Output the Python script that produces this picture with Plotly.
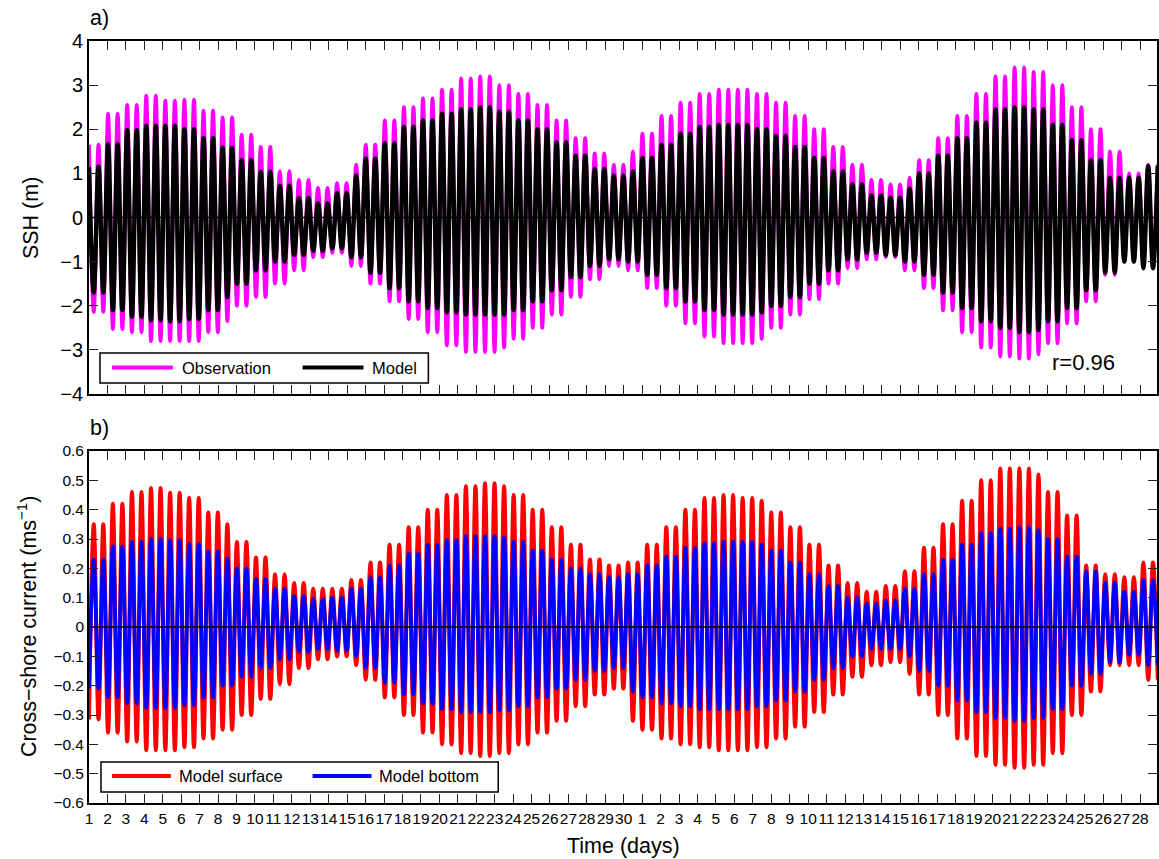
import plotly.graph_objects as go

# Calendar day labels for the two consecutive months on the time axis
day_labels = [str(d) for d in range(1, 31)] + [str(d) for d in range(1, 29)]

# Daily envelopes of sea surface height (m): high-water and low-water levels
ssh_obs_high = [1.65, 2.35, 2.55, 2.76, 2.65, 2.67, 2.42, 2.27, 1.88, 1.60,
                1.05, 0.85, 0.67, 0.78, 1.20, 1.65, 2.20, 2.50, 2.70, 2.90,
                3.15, 3.20, 3.00, 2.80, 2.55, 2.20, 1.80, 1.45, 1.20, 1.50,
                1.90, 2.30, 2.60, 2.80, 2.90, 2.90, 2.80, 2.60, 2.30, 2.00,
                1.60, 1.20, 0.85, 0.75, 0.90, 1.30, 1.80, 2.30, 2.80, 3.20,
                3.40, 3.30, 3.00, 2.50, 2.00, 1.50, 1.00, 1.20]
ssh_obs_low = [-2.14, -2.53, -2.60, -2.80, -2.80, -2.80, -2.60, -2.35, -2.00, -1.80,
               -1.50, -1.20, -0.90, -0.80, -1.10, -1.50, -1.90, -2.30, -2.60, -2.90,
               -3.05, -3.05, -2.95, -2.75, -2.50, -2.20, -1.80, -1.40, -1.10, -1.20,
               -1.60, -2.00, -2.40, -2.70, -2.85, -2.85, -2.75, -2.50, -2.20, -1.85,
               -1.50, -1.15, -0.95, -0.90, -1.20, -1.60, -2.10, -2.60, -2.95, -3.15,
               -3.20, -3.10, -2.85, -2.40, -1.90, -1.30, -1.00, -1.10]
ssh_model_high = [1.15, 1.66, 1.98, 2.08, 2.08, 2.00, 1.80, 1.58, 1.30, 1.04,
                  0.72, 0.44, 0.32, 0.55, 0.95, 1.33, 1.68, 2.05, 2.20, 2.35,
                  2.45, 2.50, 2.40, 2.20, 2.00, 1.70, 1.40, 1.10, 0.95, 1.05,
                  1.35, 1.65, 1.90, 2.05, 2.10, 2.10, 2.00, 1.85, 1.60, 1.35,
                  1.05, 0.75, 0.50, 0.45, 0.65, 1.00, 1.40, 1.80, 2.15, 2.45,
                  2.50, 2.45, 2.10, 1.75, 1.30, 0.90, 0.90, 1.17]
ssh_model_low = [-1.70, -2.10, -2.25, -2.33, -2.35, -2.30, -2.10, -1.80, -1.50, -1.20,
                 -1.00, -0.85, -0.75, -0.70, -0.90, -1.25, -1.60, -1.90, -2.05, -2.15,
                 -2.20, -2.20, -2.20, -2.10, -1.90, -1.65, -1.35, -1.10, -0.95, -1.00,
                 -1.30, -1.60, -1.90, -2.10, -2.20, -2.20, -2.15, -2.00, -1.80, -1.50,
                 -1.20, -0.95, -0.80, -0.85, -1.00, -1.30, -1.70, -2.05, -2.35, -2.50,
                 -2.60, -2.55, -2.35, -2.05, -1.65, -1.25, -1.00, -1.15]

# Daily envelopes of cross-shore current (m/s): onshore and offshore maxima
surface_high = [0.35, 0.42, 0.46, 0.474, 0.458, 0.44, 0.39, 0.35, 0.29, 0.237,
                0.18, 0.15, 0.13, 0.13, 0.16, 0.22, 0.28, 0.34, 0.40, 0.45,
                0.48, 0.49, 0.48, 0.45, 0.40, 0.34, 0.28, 0.23, 0.21, 0.22,
                0.28, 0.34, 0.40, 0.44, 0.45, 0.44, 0.43, 0.39, 0.34, 0.28,
                0.21, 0.15, 0.12, 0.14, 0.19, 0.27, 0.35, 0.43, 0.50, 0.54,
                0.54, 0.52, 0.46, 0.38, 0.21, 0.18, 0.17, 0.22]
surface_low = [-0.315, -0.36, -0.39, -0.42, -0.42, -0.41, -0.38, -0.35, -0.30, -0.245,
               -0.195, -0.14, -0.11, -0.10, -0.13, -0.18, -0.24, -0.30, -0.36, -0.40,
               -0.43, -0.44, -0.43, -0.40, -0.36, -0.32, -0.27, -0.23, -0.21, -0.32,
               -0.35, -0.38, -0.40, -0.41, -0.42, -0.42, -0.41, -0.38, -0.34, -0.29,
               -0.23, -0.17, -0.13, -0.12, -0.16, -0.23, -0.30, -0.38, -0.44, -0.47,
               -0.48, -0.47, -0.43, -0.30, -0.22, -0.13, -0.13, -0.18]
bottom_high = [0.23, 0.275, 0.29, 0.30, 0.295, 0.283, 0.257, 0.233, 0.20, 0.165,
               0.13, 0.105, 0.095, 0.10, 0.13, 0.17, 0.21, 0.25, 0.28, 0.295,
               0.31, 0.31, 0.305, 0.29, 0.26, 0.23, 0.20, 0.18, 0.17, 0.18,
               0.21, 0.24, 0.27, 0.285, 0.29, 0.29, 0.28, 0.26, 0.22, 0.18,
               0.14, 0.10, 0.08, 0.09, 0.13, 0.18, 0.23, 0.28, 0.32, 0.335,
               0.34, 0.33, 0.30, 0.24, 0.19, 0.15, 0.12, 0.16]
bottom_low = [-0.21, -0.24, -0.26, -0.275, -0.276, -0.266, -0.24, -0.20, -0.17, -0.14,
              -0.11, -0.085, -0.075, -0.08, -0.10, -0.14, -0.19, -0.23, -0.26, -0.28,
              -0.29, -0.29, -0.285, -0.27, -0.24, -0.21, -0.18, -0.15, -0.14, -0.22,
              -0.24, -0.26, -0.27, -0.28, -0.28, -0.28, -0.27, -0.25, -0.22, -0.18,
              -0.14, -0.10, -0.075, -0.075, -0.10, -0.15, -0.20, -0.25, -0.29, -0.31,
              -0.32, -0.31, -0.28, -0.20, -0.16, -0.12, -0.095, -0.13]

TIDAL_PERIOD = 0.5175   # semidiurnal (M2) period, days
T_END = 57.92           # end of the record, days after the first tick

FONT = "Liberation Sans, Arial, Helvetica, sans-serif"
W, H = 1159, 859
ML, MR, MT, MB = 89, 0, 41, 56


def tidal_extrema(highs, lows, start_high):
    """Alternate high/low turning points every half tidal period, taking the
    envelope value of the day each turning point falls in."""
    half = TIDAL_PERIOD / 2
    times, values = [], []
    k = 0
    while k * half <= T_END + half:
        t = k * half
        day = min(int(t), len(highs) - 1)
        high = (k % 2 == 0) == start_high
        times.append(t)
        values.append(highs[day] if high else lows[day])
        k += 1
    return times, values


def px(x, y):
    """Pixel position on the page -> paper coordinates."""
    pw = W - ML - MR
    ph = H - MT - MB
    return (x - ML) / pw, (H - MB - y) / ph


fig = go.Figure()

series = [
    (ssh_obs_high, ssh_obs_low, True, "#ff00ff", 3.8, "x", "y"),
    (ssh_model_high, ssh_model_low, True, "#000000", 4.4, "x", "y"),
    (surface_high, surface_low, False, "#ff0000", 4.0, "x2", "y2"),
    (bottom_high, bottom_low, False, "#0000ff", 3.8, "x2", "y2"),
]
for hi, lo, start_high, color, width, xa, ya in series:
    t, v = tidal_extrema(hi, lo, start_high)
    fig.add_trace(go.Scatter(x=t, y=v, mode="lines", xaxis=xa, yaxis=ya,
                             line=dict(color=color, width=width, shape="spline", smoothing=1.0),
                             showlegend=False, hoverinfo="skip"))

_, ya_bot = px(0, 394)
_, yb_top = px(0, 451)

common_x = dict(range=[0, T_END], tickvals=list(range(len(day_labels))), ticktext=day_labels,
                ticks="inside", ticklen=9, tickwidth=1, tickcolor="#222",
                showline=True, linecolor="black", linewidth=1.8, mirror="ticks",
                showgrid=False, zeroline=False, tickangle=0,
                tickfont=dict(family=FONT, size=15.5, color="black"))
fig.update_layout(
    width=W, height=H, margin=dict(l=ML, r=MR, t=MT, b=MB),
    paper_bgcolor="white", plot_bgcolor="white",
    font=dict(family=FONT, color="black"),
    xaxis=dict(common_x, domain=[0, 1], anchor="y", showticklabels=False),
    yaxis=dict(domain=[ya_bot, 1], range=[-4, 4], anchor="x",
               tickvals=[4, 3, 2, 1, 0, -1, -2, -3, -4],
               ticktext=["4", "3", "2", "1", "0", "\u22121", "\u22122", "\u22123", "\u22124"],
               ticks="inside", ticklen=9, tickwidth=1, tickcolor="#222",
               showline=True, linecolor="black", linewidth=1.8, mirror="ticks",
               showgrid=False, zeroline=False,
               tickfont=dict(family=FONT, size=20, color="black")),
    xaxis2=dict(common_x, domain=[0, 1], anchor="y2"),
    yaxis2=dict(domain=[0, yb_top], range=[-0.6, 0.6], anchor="x2",
                tickvals=[0.6, 0.5, 0.4, 0.3, 0.2, 0.1, 0, -0.1, -0.2, -0.3, -0.4, -0.5, -0.6],
                ticktext=["0.6", "0.5", "0.4", "0.3", "0.2", "0.1", "0",
                          "\u22120.1", "\u22120.2", "\u22120.3", "\u22120.4", "\u22120.5", "\u22120.6"],
                ticks="inside", ticklen=9, tickwidth=1, tickcolor="#222",
                showline=True, linecolor="black", linewidth=1.8, mirror="ticks",
                showgrid=False, zeroline=False,
                tickfont=dict(family=FONT, size=15.5, color="black")),
)

# Zero reference lines
for xr, yr in (("x domain", "y"), ("x2 domain", "y2")):
    fig.add_shape(type="line", xref=xr, yref=yr, x0=0, x1=1, y0=0, y1=0,
                  line=dict(color="black", width=1.3), layer="above")

annotations = []


def text(x, y, s, size, angle=0, xanchor="center", yanchor="middle"):
    xp, yp = px(x, y)
    annotations.append(dict(x=xp, y=yp, xref="paper", yref="paper", text=s, showarrow=False,
                            textangle=angle, xanchor=xanchor, yanchor=yanchor,
                            font=dict(family=FONT, size=size, color="black")))


def rect(x0, y0, x1, y1):
    a0, b0 = px(x0, y0)
    a1, b1 = px(x1, y1)
    fig.add_shape(type="rect", xref="paper", yref="paper", x0=a0, y0=b0, x1=a1, y1=b1,
                  line=dict(color="black", width=1.5), fillcolor="white", layer="above")


def legend_line(x0, x1, y, color):
    a0, b = px(x0, y)
    a1, _ = px(x1, y)
    fig.add_shape(type="line", xref="paper", yref="paper", x0=a0, x1=a1, y0=b, y1=b,
                  line=dict(color=color, width=4), layer="above")


# Panel labels and axis titles
text(88, 18, "a)", 21.5, xanchor="left")
text(88, 428, "b)", 21.5, xanchor="left")
text(31, 218, "SSH (m)", 21.5, angle=-90)
text(27, 626, "Cross\u2212shore current (ms<sup>\u22121</sup>)", 21.5, angle=-90)
text(624, 846, "Time (days)", 21.5)
text(1085, 363, "r=0.96", 22)

# Legend of panel a
rect(100, 353, 429, 383)
legend_line(112, 173, 367.5, "#ff00ff")
text(180, 367.5, "Observation", 16.5, xanchor="left")
legend_line(303, 364, 367.5, "#000000")
text(371, 367.5, "Model", 16.5, xanchor="left")

# Legend of panel b
rect(101, 762, 499, 792)
legend_line(112, 171, 776, "#ff0000")
text(177, 776, "Model surface", 16.5, xanchor="left")
legend_line(313, 372, 776, "#0000ff")
text(378, 776, "Model bottom", 16.5, xanchor="left")

fig.update_layout(annotations=annotations)
fig.write_html("out.html")
